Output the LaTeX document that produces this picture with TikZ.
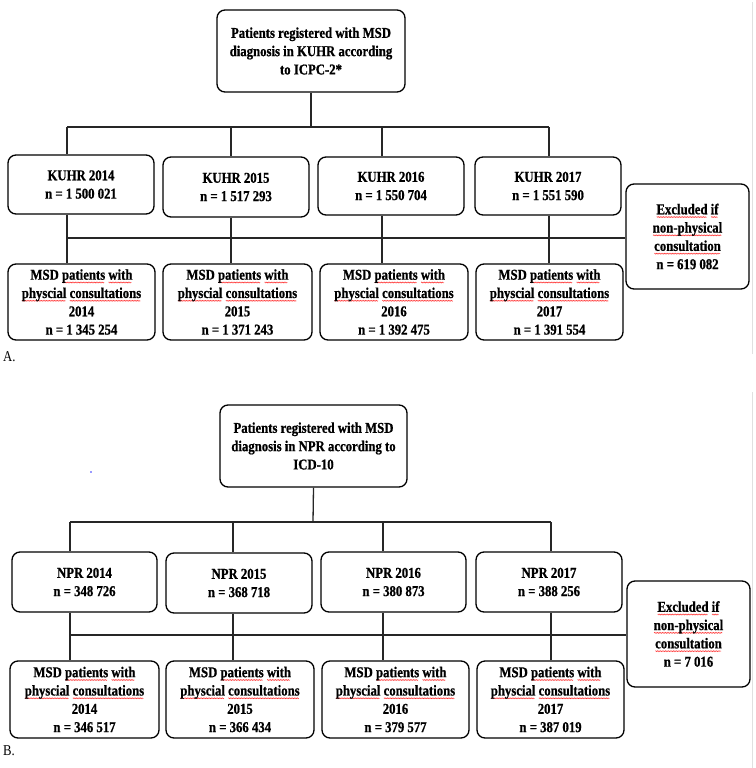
\documentclass[tikz,border=0pt]{standalone}
\usepackage{fontspec}
\setmainfont{Liberation Serif}[FakeStretch=0.85, BoldFeatures={FakeBold=0.8}]
\usetikzlibrary{decorations.pathmorphing}
\newsavebox\sqbox
\newcommand\sq[1]{\sbox\sqbox{#1}\leavevmode\rlap{\smash{\tikz[x=1pt,y=1pt,baseline=2.8pt,sharp corners]\draw[red!80, line width=0.4pt, sharp corners, decorate, decoration={zigzag, amplitude=0.55pt, segment length=1.6pt}] (0.5,0) -- (\wd\sqbox-0.5pt,0);}}\usebox\sqbox}
\begin{document}
\begin{tikzpicture}[x=1pt,y=-1pt,
  box/.style={draw=black, line width=1.3pt, rounded corners=8pt, inner sep=0pt,
    align=center, font=\fontsize{15}{18.3}\selectfont\bfseries},
  conn/.style={draw=black!85, line width=1.3pt},
  edge/.style={draw=black!12, line width=0.8pt},
  lab/.style={font=\fontsize{15}{18}\selectfont, anchor=west, inner sep=0pt}]
\useasboundingbox (0,0) rectangle (755,768);
% faint right edges
\draw[edge] (752,2) -- (752,354);
\draw[edge] (752,392) -- (752,768);

% ---------------- Panel A ----------------
\node[box, minimum width=188pt, minimum height=82pt] (topA) at (311,51)
  {Patients registered with MSD\\diagnosis in KUHR according\\to ICPC-2*};
\node[box, minimum width=146pt, minimum height=59pt] (k14) at (81,184.5) {KUHR 2014\\n = 1 500 021};
\node[box, minimum width=146pt, minimum height=60pt] (k15) at (236,187) {KUHR 2015\\n = 1 517 293};
\node[box, minimum width=146pt, minimum height=58pt] (k16) at (391,186) {KUHR 2016\\n = 1 550 704};
\node[box, minimum width=146pt, minimum height=58pt] (k17) at (548,186) {KUHR 2017\\n = 1 551 590};
\node[box, minimum width=147pt, minimum height=76pt] (m14) at (81.5,302)
  {MSD \sq{patients} \sq{with}\\\sq{physcial} \sq{consultations}\\2014\\n = 1 345 254};
\node[box, minimum width=149pt, minimum height=76pt] (m15) at (237.5,302)
  {MSD \sq{patients} \sq{with}\\\sq{physcial} \sq{consultations}\\2015\\n = 1 371 243};
\node[box, minimum width=148pt, minimum height=76pt] (m16) at (394,302)
  {MSD \sq{patients} \sq{with}\\\sq{physcial} \sq{consultations}\\2016\\n = 1 392 475};
\node[box, minimum width=147pt, minimum height=76pt] (m17) at (549.5,302)
  {MSD \sq{patients} \sq{with}\\\sq{physcial} \sq{consultations}\\2017\\n = 1 391 554};
\node[box, minimum width=123pt, minimum height=105pt] (exA) at (687.5,236.5)
  {\sq{Excluded} \sq{if}\\\sq{non-physical}\\\sq{consultation}\\n = 619 082};

\coordinate (aT) at (311,127);
\coordinate (a1) at (67,127);
\coordinate (a2) at (231,127);
\coordinate (a3) at (382,127);
\coordinate (a4) at (549,127);
\coordinate (c1) at (67,238);
\draw[conn] (topA.south) -- (aT);
\draw[conn] (a1) -- (a4);
\draw[conn] (a1) -- (a1 |- k14.north);
\draw[conn] (a2) -- (a2 |- k15.north);
\draw[conn] (a3) -- (a3 |- k16.north);
\draw[conn] (a4) -- (a4 |- k17.north);
\draw[conn] (c1) -- (c1 -| exA.west);
\draw[conn] (a1 |- k14.south) -- (a1 |- m14.north);
\draw[conn] (a2 |- k15.south) -- (a2 |- m15.north);
\draw[conn] (a3 |- k16.south) -- (a3 |- m16.north);
\draw[conn] (a4 |- k17.south) -- (a4 |- m17.north);
\node[lab] (labA) at (3,357) {A.};

% ---------------- Panel B ----------------
\node[box, minimum width=187pt, minimum height=82pt] (topB) at (313.5,446)
  {Patients registered with MSD\\diagnosis in NPR according to\\ICD-10};
\node[box, minimum width=145pt, minimum height=60pt] (n14) at (84.5,582) {NPR 2014\\n = 348 726};
\node[box, minimum width=146pt, minimum height=60pt] (n15) at (239,583) {NPR 2015\\n = 368 718};
\node[box, minimum width=145pt, minimum height=60pt] (n16) at (393.5,582) {NPR 2016\\n = 380 873};
\node[box, minimum width=146pt, minimum height=60pt] (n17) at (549,582) {NPR 2017\\n = 388 256};
\node[box, minimum width=149pt, minimum height=77pt] (p14) at (84.5,699.5)
  {MSD \sq{patients} \sq{with}\\\sq{physcial} \sq{consultations}\\2014\\n = 346 517};
\node[box, minimum width=148pt, minimum height=77pt] (p15) at (240,699.5)
  {MSD \sq{patients} \sq{with}\\\sq{physcial} \sq{consultations}\\2015\\n = 366 434};
\node[box, minimum width=147pt, minimum height=77pt] (p16) at (395.5,699.5)
  {MSD \sq{patients} \sq{with}\\\sq{physcial} \sq{consultations}\\2016\\n = 379 577};
\node[box, minimum width=147pt, minimum height=77pt] (p17) at (550.5,699.5)
  {MSD \sq{patients} \sq{with}\\\sq{physcial} \sq{consultations}\\2017\\n = 387 019};
\node[box, minimum width=123pt, minimum height=106pt] (exB) at (688.5,634)
  {\sq{Excluded} \sq{if}\\\sq{non-physical}\\\sq{consultation}\\n = 7 016};

\coordinate (bT) at (313,522);
\coordinate (b1) at (70,522);
\coordinate (b2) at (233,522);
\coordinate (b3) at (383,522);
\coordinate (b4) at (551,522);
\coordinate (d1) at (70,635);
\draw[conn] (topB.south) -- (bT);
\draw[conn] (b1) -- (b4);
\draw[conn] (b1) -- (b1 |- n14.north);
\draw[conn] (b2) -- (b2 |- n15.north);
\draw[conn] (b3) -- (b3 |- n16.north);
\draw[conn] (b4) -- (b4 |- n17.north);
\draw[conn] (d1) -- (d1 -| exB.west);
\draw[conn] (b1 |- n14.south) -- (b1 |- p14.north);
\draw[conn] (b2 |- n15.south) -- (b2 |- p15.north);
\draw[conn] (b3 |- n16.south) -- (b3 |- p16.north);
\draw[conn] (b4 |- n17.south) -- (b4 |- p17.north);
\node[lab] (labB) at (3,751) {B.};

% stray blue dot
\fill[blue!80] (91,472) circle (0.9pt);
\end{tikzpicture}
\end{document}
